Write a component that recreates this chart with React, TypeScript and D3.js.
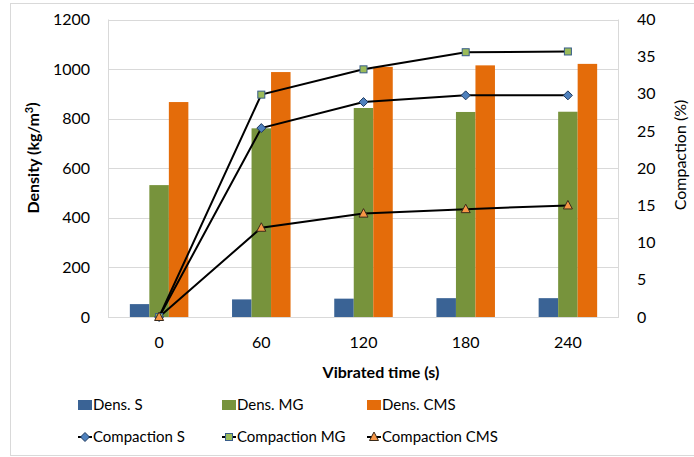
import React from "react";
import * as d3 from "d3";

const categories = ["0", "60", "120", "180", "240"];
const densS = [52, 71, 74, 76, 76];
const densMG = [532, 761, 843, 827, 828];
const densCMS = [867, 988, 1009, 1015, 1021];
const compS = [0, 25.4, 28.9, 29.8, 29.8];
const compMG = [0, 29.9, 33.3, 35.6, 35.7];
const compCMS = [0, 12.0, 13.9, 14.5, 15.0];
const leftTicks = [0, 200, 400, 600, 800, 1000, 1200];
const rightTicks = [0, 5, 10, 15, 20, 25, 30, 35, 40];

const W = 694;
const H = 457;
const M = { left: 108, right: 619, top: 19.5, bottom: 317 };
const FONT = "Lato, 'Open Sans', sans-serif";

const barColors = ["#3A6395", "#77933C", "#E46C0A"];

export default function App() {
  const x0 = d3.scaleBand<string>().domain(categories).range([M.left, M.right]).paddingInner(0).paddingOuter(0);
  const x1 = d3
    .scaleBand<string>()
    .domain(["S", "MG", "CMS"])
    .range([0, x0.bandwidth()])
    .paddingInner(0)
    .paddingOuter(1.12);
  const yL = d3.scaleLinear().domain([0, 1200]).range([M.bottom, M.top]);
  const yR = d3.scaleLinear().domain([0, 40]).range([M.bottom, M.top]);
  const cx = (c: string) => (x0(c) as number) + x0.bandwidth() / 2;

  const densSeries = [
    { key: "S", vals: densS, color: barColors[0] },
    { key: "MG", vals: densMG, color: barColors[1] },
    { key: "CMS", vals: densCMS, color: barColors[2] },
  ];
  const line = d3
    .line<number>()
    .x((_, i) => cx(categories[i]))
    .y((d) => yR(d));

  const diamond = (x: number, y: number, k = 1) => (
    <path
      d={`M${x},${y - 4.5 * k}L${x + 4.5 * k},${y}L${x},${y + 4.5 * k}L${x - 4.5 * k},${y}Z`}
      fill="#4F81BD"
      stroke="#1F3A5F"
      strokeWidth={1}
    />
  );
  const square = (x: number, y: number) => (
    <rect x={x - 3.5} y={y - 3.5} width={7} height={7} fill="#9BBB59" stroke="#385D8A" strokeWidth={1} />
  );
  const triangle = (x: number, y: number) => (
    <path d={`M${x},${y - 5}L${x + 4.5},${y + 3.5}L${x - 4.5},${y + 3.5}Z`} fill="#F79646" stroke="#3a2a1a" strokeWidth={1} />
  );

  const compSeries = [
    { key: "S", vals: compS, marker: diamond },
    { key: "MG", vals: compMG, marker: square },
    { key: "CMS", vals: compCMS, marker: triangle },
  ];

  const legendCols = [78, 222, 367];

  return (
    <svg width={W} height={H} style={{ position: "absolute", left: 0, top: 0 }} fontFamily={FONT}>
      <rect x={0} y={0} width={W} height={H} fill="#fff" />
      <rect x={10.5} y={3.5} width={W + 10} height={452} fill="none" stroke="#D9D9D9" />
      {/* gridlines */}
      {leftTicks.map((t) => (
        <line key={t} x1={M.left} x2={M.right} y1={Math.round(yL(t)) + 0.5} y2={Math.round(yL(t)) + 0.5} stroke="#D9D9D9" />
      ))}
      <line x1={M.left + 0.5} x2={M.left + 0.5} y1={M.top} y2={M.bottom} stroke="#D9D9D9" />
      <line x1={M.right - 0.5} x2={M.right - 0.5} y1={M.top} y2={M.bottom} stroke="#D9D9D9" />
      {/* bars */}
      {densSeries.map((s) =>
        s.vals.map((v, i) => (
          <rect
            key={s.key + i}
            x={(x0(categories[i]) as number) + (x1(s.key) as number)}
            y={yL(v)}
            width={x1.bandwidth()}
            height={yL(0) - yL(v)}
            fill={s.color}
          />
        ))
      )}
      <line x1={M.left} x2={M.right} y1={M.bottom + 0.5} y2={M.bottom + 0.5} stroke="#D9D9D9" />
      {/* lines */}
      {compSeries.map((s) => (
        <path key={s.key} d={line(s.vals) as string} fill="none" stroke="#000" strokeWidth={2} />
      ))}
      {compSeries.map((s) =>
        s.vals.map((v, i) => <g key={s.key + i}>{s.marker(cx(categories[i]), yR(v))}</g>)
      )}
      {/* left ticks */}
      {leftTicks.map((t) => (
        <text key={t} x={90} y={yL(t)} dy="0.35em" textAnchor="end" fontSize={16} fill="#000">
          {t}
        </text>
      ))}
      {rightTicks.map((t) => (
        <text key={t} x={637} y={yR(t)} dy="0.35em" textAnchor="start" fontSize={16} fill="#000">
          {t}
        </text>
      ))}
      {categories.map((c) => (
        <text key={c} x={cx(c)} y={342} dy="0.35em" textAnchor="middle" fontSize={16} fill="#000">
          {c}
        </text>
      ))}
      <text x={381} y={372} dy="0.35em" textAnchor="middle" fontSize={16} fontWeight="bold" fill="#000">
        Vibrated time (s)
      </text>
      <text
        transform={`translate(33,158) rotate(-90)`}
        dy="0.35em"
        textAnchor="middle"
        fontSize={16}
        fontWeight="bold"
        fill="#000"
      >
        Density (kg/m<tspan fontSize={11} dy="-0.55em">3</tspan>
        <tspan dy="0.35em">)</tspan>
      </text>
      <text transform={`translate(680,155) rotate(-90)`} dy="0.35em" textAnchor="middle" fontSize={16} fill="#000">
        Compaction (%)
      </text>
      {/* legend */}
      {densSeries.map((s, i) => (
        <g key={s.key}>
          <rect x={legendCols[i]} y={400} width={14} height={10} fill={s.color} />
          <text x={legendCols[i] + 15} y={405} dy="0.35em" fontSize={15} fill="#000">
            {"Dens. " + s.key}
          </text>
        </g>
      ))}
      {compSeries.map((s, i) => (
        <g key={s.key}>
          <line x1={legendCols[i]} x2={legendCols[i] + 14} y1={437} y2={437} stroke="#000" strokeWidth={2} />
          {s.marker(legendCols[i] + 7, 437)}
          <text x={legendCols[i] + 15} y={437} dy="0.35em" fontSize={15} fill="#000">
            {"Compaction " + s.key}
          </text>
        </g>
      ))}
    </svg>
  );
}
